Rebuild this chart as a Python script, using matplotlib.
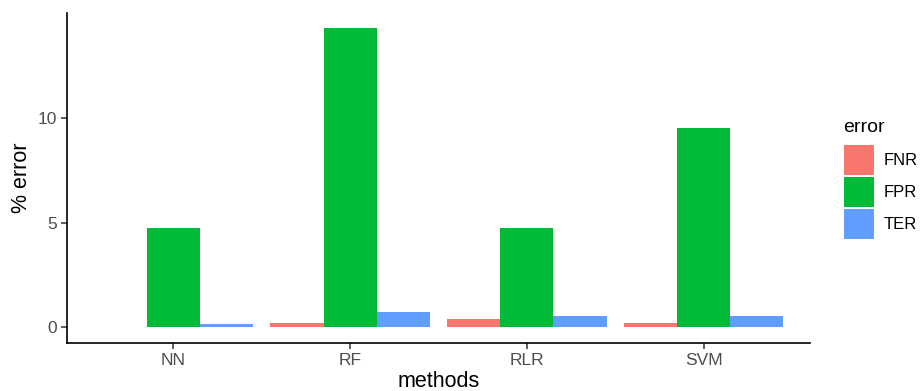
import numpy as np
import matplotlib
matplotlib.use("Agg")
import matplotlib.pyplot as plt

plt.rcParams['font.family'] = ['Liberation Sans', 'DejaVu Sans']

methods = ["NN", "RF", "RLR", "SVM"]
errors = ["FNR", "FPR", "TER"]
fnr = [0.0, 0.2, 0.4, 0.2]
fpr = [4.76, 14.29, 4.76, 9.52]
ter = [0.15, 0.72, 0.55, 0.55]
colors = ["#F8766D", "#00BA38", "#619CFF"]

fig = plt.figure(figsize=(9.21, 3.91), dpi=100)
ax = fig.add_axes([67/921, 48/391, 743/921, 330/391])

x = np.arange(1, len(methods) + 1)
w = 0.3
bars = []
for j, vals in enumerate([fnr, fpr, ter]):
    b = ax.bar(x + (j - 1) * w, vals, width=w, color=colors[j], label=errors[j])
    bars.append(b)

ax.set_xlim(0.4, 4.6)
ax.set_ylim(-0.75, 15.02)
ax.set_xticks(x)
ax.set_xticklabels(methods)
ax.set_yticks([0, 5, 10])

for s in ["top", "right"]:
    ax.spines[s].set_visible(False)
for s in ["left", "bottom"]:
    ax.spines[s].set_linewidth(1.2)
ax.tick_params(colors="#333333", labelcolor="#4D4D4D", labelsize=12.5, length=4, width=1.1)

ax.set_xlabel("methods", fontsize=15.5, labelpad=2)
ax.set_ylabel("% error", fontsize=15.5, labelpad=4)

# legend title drawn on its own so the gap to the keys matches
fig.text(843/921, 1 - 127/391, "error", fontsize=14, va="center", ha="left")
fig.legend(handles=bars, labels=errors, loc="upper left",
           bbox_to_anchor=(844/921, 1 - 145/391), frameon=False, borderpad=0,
           borderaxespad=0, fontsize=12, handlelength=1.8, handleheight=2.38,
           labelspacing=0.12, handletextpad=0.6)

plt.savefig("out.png", dpi=100)
